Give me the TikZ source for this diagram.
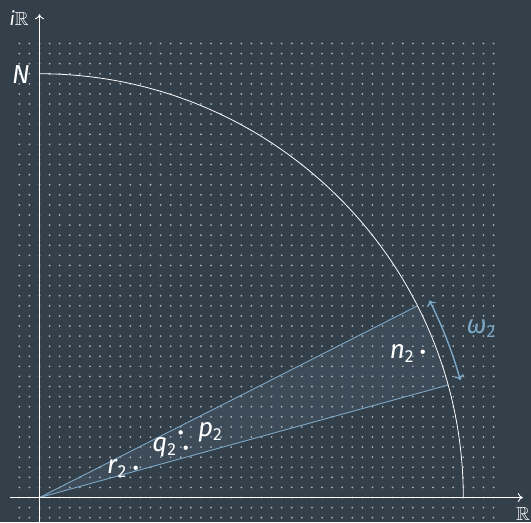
\documentclass[tikz,border=0pt]{standalone}
\usepackage{amssymb}
\usepackage{fontspec}
\setmainfont{Fira Sans}
\usetikzlibrary{arrows.meta}
\definecolor{bg}{HTML}{333F49}
\definecolor{wedgefill}{HTML}{3E4C59}
\definecolor{acc}{HTML}{7DA8C8}
\definecolor{dotc}{HTML}{A8B2BA}
\newcommand\mylbl[2]{\textit{#1}\raisebox{-4pt}{\fontsize{17.5}{19}\selectfont #2}}
\tikzset{
  axis/.style={draw=white, line width=0.9pt, -{To[length=5pt,width=9pt]}},
  lab/.style={text=white, inner sep=0pt, font=\fontsize{26}{28}\selectfont},
  pt/.style={circle, fill=white, inner sep=0pt, minimum size=4.4pt},
  griddot/.style={dotc},
  ray/.style={draw=acc, line width=0.9pt},
}
\begin{document}
\begin{tikzpicture}[x=10.09pt,y=10.09pt]
\fill[bg] (-3.915,-2.428) rectangle (48.71,49.31);
\useasboundingbox (-3.915,-2.428) rectangle (48.71,49.31);
\coordinate (O) at (0,0);
\coordinate (A) at (15.4:42);
\coordinate (B) at (26.9:42);
% wedge fill
\fill[wedgefill] (O) -- (A) arc[start angle=15.4, end angle=26.9, radius=42] -- cycle;
% dots
\foreach \i in {-2,...,45} {
  \foreach \j in {-2,...,45} {
    \fill[griddot] (\i,\j) circle (0.1);
  }
}
% wedge rays
\draw[ray] (O) -- (A);
\draw[ray] (O) -- (B);
% circle
\draw[white, line width=0.8pt] (42,0) arc[start angle=0, end angle=90, radius=42];
% axes
\coordinate (xs) at (-2.92,0);
\coordinate (xe) at (47.9,0);
\coordinate (ys) at (0,-2.92);
\coordinate (ye) at (0,47.9);
\draw[axis] (xs) -- (xe);
\draw[axis] (ys) -- (ye);
% angle arrow
\draw[acc, line width=1.4pt, {To[length=5pt,width=10pt]}-{To[length=5pt,width=10pt]}] (15.6:43.3) arc[start angle=15.6, end angle=26.8, radius=43.3];
% points
\node[pt] (n2) at (37.98,14.45) {};
\node[pt] (q2) at (13.99,6.46) {};
\node[pt] (p2) at (14.49,4.94) {};
\node[pt] (r2) at (9.53,2.95) {};
% labels
\node[lab] (n2l) at (35.9,14.3) {\mylbl{n}{2}};
\node[lab] (p2l) at (16.9,6.44) {\mylbl{p}{2}};
\node[lab] (q2l) at (12.36,4.96) {\mylbl{q}{2}};
\node[lab] (r2l) at (7.65,2.9) {\mylbl{r}{2}};
\node[lab] (Nl) at (-1.85,41.95) {\textit{N}};
\node[lab, text=acc] (wl) at (43.74,16.77) {\mylbl{ω}{2}};
\node[text=white, inner sep=0pt, font=\fontsize{19}{21}\selectfont] (iR) at (-2.03,47.55) {\textit{i}$\mathbb{R}$};
\node[text=white, inner sep=0pt, font=\fontsize{19}{21}\selectfont] (R) at (47.92,-1.64) {$\mathbb{R}$};
\end{tikzpicture}
\end{document}
